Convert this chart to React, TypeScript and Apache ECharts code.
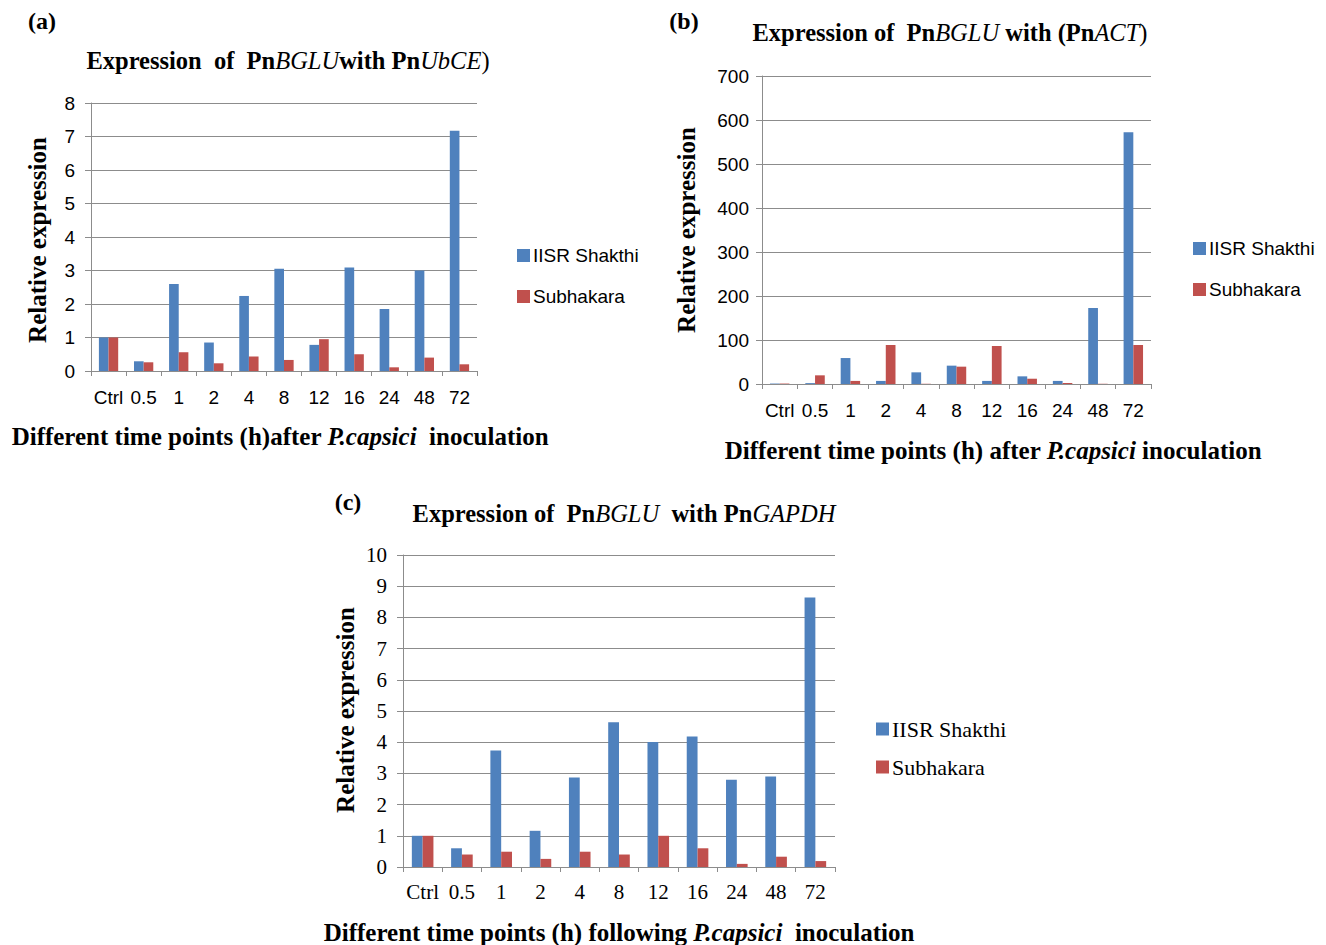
import React, { useEffect, useRef } from 'react';
import * as echarts from 'echarts';

const categories = ['Ctrl', '0.5', '1', '2', '4', '8', '12', '16', '24', '48', '72'];
const seriesNames = ['IISR Shakthi', 'Subhakara'];

const aShakthi = [1.0, 0.29, 2.6, 0.85, 2.24, 3.05, 0.78, 3.09, 1.85, 3.0, 7.17];
const aSubhakara = [1.0, 0.26, 0.56, 0.23, 0.43, 0.33, 0.95, 0.5, 0.11, 0.4, 0.2];
const bShakthi = [1, 2, 59, 7, 26.5, 41.7, 7, 17.4, 7, 172.7, 572];
const bSubhakara = [1, 19.7, 7, 88.6, 0.5, 39.4, 86.4, 12, 2.3, 0.5, 88.6];
const cShakthi = [1.0, 0.6, 3.73, 1.16, 2.87, 4.64, 4.01, 4.18, 2.8, 2.9, 8.64];
const cSubhakara = [1.0, 0.4, 0.49, 0.26, 0.49, 0.4, 1.0, 0.6, 0.1, 0.33, 0.19];

const aTicks = { min: 0, max: 8, interval: 1 };
const bTicks = { min: 0, max: 700, interval: 100 };
const cTicks = { min: 0, max: 10, interval: 1 };

const BLUE = '#4F81BD';
const RED = '#C0504D';
const GRAY = '#8c8c8c';
const SANS = '"Liberation Sans", Arial, sans-serif';
const SERIF = '"Liberation Serif", "Times New Roman", serif';

const richSerif = (size: number) => ({
  b: { fontFamily: SERIF, fontWeight: 'bold', fontSize: size, color: '#000' },
  i: { fontFamily: SERIF, fontStyle: 'italic', fontWeight: 'normal', fontSize: size, color: '#000' },
  bi: { fontFamily: SERIF, fontStyle: 'italic', fontWeight: 'bold', fontSize: size, color: '#000' },
  n: { fontFamily: SERIF, fontWeight: 'normal', fontSize: size, color: '#000' },
});

function textEl(text: string, x: number, y: number, size: number, rotation = 0) {
  return {
    type: 'text',
    x,
    y,
    rotation,
    style: {
      text,
      rich: richSerif(size),
      align: 'center',
      verticalAlign: 'middle',
      textAlign: 'center',
      textVerticalAlign: 'middle',
      fill: '#000',
    },
  };
}

function xAxisFor(gridIndex: number, font: string, size: number, margin: number) {
  return {
    type: 'category',
    gridIndex,
    data: categories,
    axisLine: { show: true, lineStyle: { color: GRAY, width: 1 } },
    axisTick: { show: true, length: 5, lineStyle: { color: GRAY } },
    axisLabel: { interval: 0, color: '#000', fontFamily: font, fontSize: size, margin },
    splitLine: { show: false },
  };
}

function yAxisFor(gridIndex: number, t: { min: number; max: number; interval: number }, font: string, size: number, margin: number) {
  return {
    type: 'value',
    gridIndex,
    min: t.min,
    max: t.max,
    interval: t.interval,
    axisLine: { show: true, lineStyle: { color: GRAY, width: 1 } },
    axisTick: { show: true, length: 6, lineStyle: { color: GRAY } },
    axisLabel: { color: '#000', fontFamily: font, fontSize: size, margin },
    splitLine: { show: true, lineStyle: { color: GRAY, width: 1 } },
  };
}

function barSeries(name: string, data: number[], idx: number, color: string) {
  return {
    type: 'bar',
    name,
    data,
    xAxisIndex: idx,
    yAxisIndex: idx,
    barGap: '0%',
    barCategoryGap: '45%',
    itemStyle: { color },
  };
}

function legendFor(left: number, top: number, font: string, size: number, gap: number) {
  return {
    orient: 'vertical',
    left,
    top,
    data: seriesNames,
    icon: 'rect',
    itemWidth: 13,
    itemHeight: 13,
    itemGap: gap,
    selectedMode: false,
    textStyle: { fontFamily: font, fontSize: size, color: '#000', padding: [0, 0, 0, -2] },
  };
}

export default function App() {
  const ref = useRef<HTMLDivElement>(null);
  useEffect(() => {
    if (!ref.current) return;
    const chart = echarts.init(ref.current, undefined, { renderer: 'svg' });
    chart.setOption({
      animation: false,
      backgroundColor: '#fff',
      grid: [
        { left: 91, top: 103, width: 386, height: 268 },
        { left: 762, top: 76, width: 389, height: 308 },
        { left: 403, top: 555, width: 432, height: 312 },
      ],
      xAxis: [xAxisFor(0, SANS, 19, 17), xAxisFor(1, SANS, 19, 17), xAxisFor(2, SERIF, 21, 14)],
      yAxis: [
        yAxisFor(0, aTicks, SANS, 19, 16),
        yAxisFor(1, bTicks, SANS, 19, 13),
        yAxisFor(2, cTicks, SERIF, 21, 16),
      ],
      legend: [
        legendFor(512, 241, SANS, 19, 22),
        legendFor(1188, 234, SANS, 19, 22),
        legendFor(871, 713, SERIF, 22, 16),
      ],
      series: [
        barSeries(seriesNames[0], aShakthi, 0, BLUE),
        barSeries(seriesNames[1], aSubhakara, 0, RED),
        barSeries(seriesNames[0], bShakthi, 1, BLUE),
        barSeries(seriesNames[1], bSubhakara, 1, RED),
        barSeries(seriesNames[0], cShakthi, 2, BLUE),
        barSeries(seriesNames[1], cSubhakara, 2, RED),
      ],
      graphic: [
        textEl('{b|(a)}', 42, 21, 24),
        textEl('{b|(b)}', 684, 21, 24),
        textEl('{b|(c)}', 348, 502, 24),
        textEl('{b|Expression  of  Pn}{i|BGLU}{b|with Pn}{i|UbCE}{n|)}', 288, 60, 24.5),
        textEl('{b|Expression of  Pn}{i|BGLU}{b| with (Pn}{i|ACT}{n|)}', 950, 32, 24.5),
        textEl('{b|Expression of  Pn}{i|BGLU}{b|  with Pn}{i|GAPDH}', 624, 513, 24.5),
        textEl('{b|Relative expression}', 37, 240, 25, Math.PI / 2),
        textEl('{b|Relative expression}', 686, 230, 25, Math.PI / 2),
        textEl('{b|Relative expression}', 345, 710, 25, Math.PI / 2),
        textEl('{b|Different time points (h)after }{bi|P.capsici}{b|  inoculation}', 280, 436, 25),
        textEl('{b|Different time points (h) after }{bi|P.capsici}{b| inoculation}', 993, 450, 25),
        textEl('{b|Different time points (h) following }{bi|P.capsici}{b|  inoculation}', 619, 932, 25),
      ],
    });
    return () => chart.dispose();
  }, []);
  return <div ref={ref} style={{ position: 'absolute', left: 0, top: 0, width: 1326, height: 945 }} />;
}
